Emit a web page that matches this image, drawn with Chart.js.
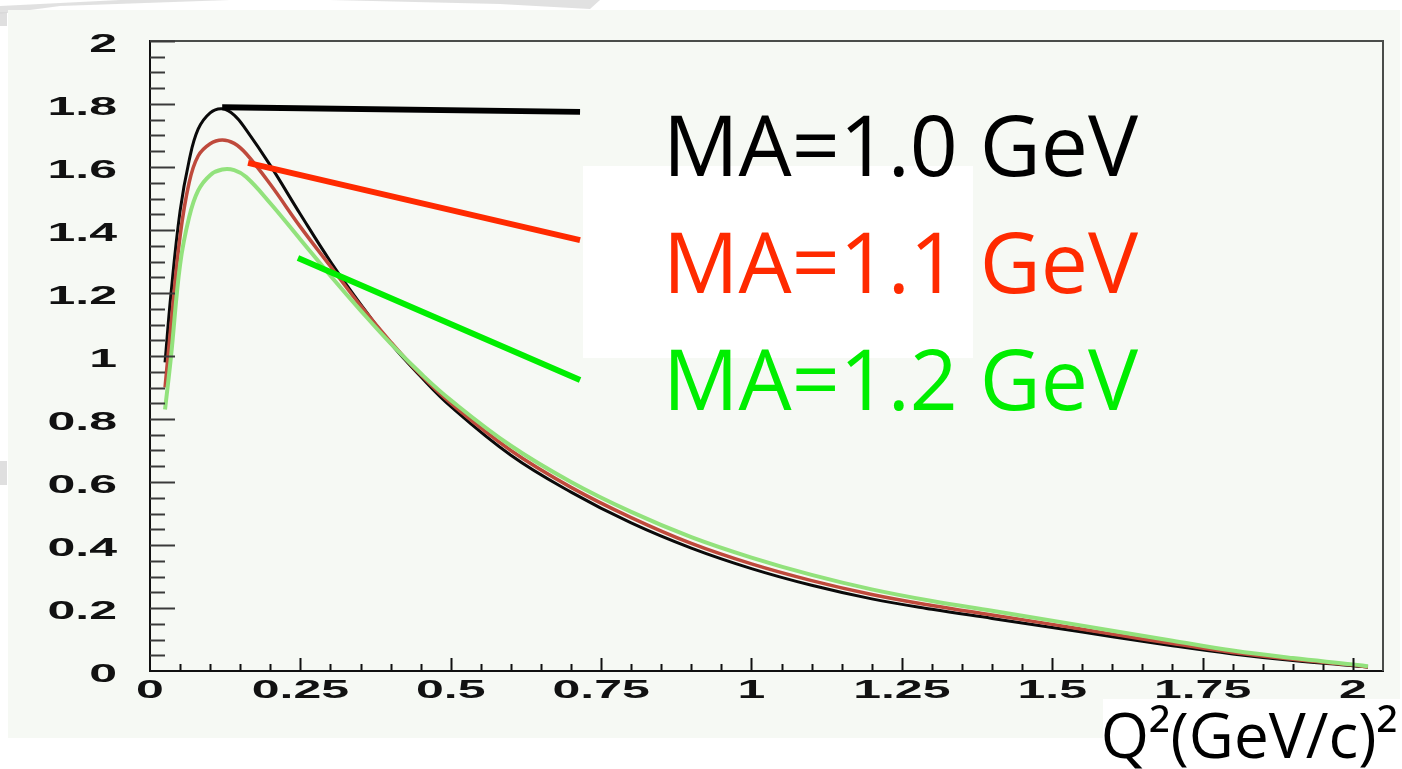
<!DOCTYPE html>
<html>
<head>
<meta charset="utf-8">
<title>Q2 distribution for different axial masses</title>
<script src="https://cdn.jsdelivr.net/npm/chart.js@4.4.1/dist/chart.umd.min.js"></script>
<style>
  html, body { margin: 0; padding: 0; background: #ffffff; }
  canvas { display: block; }
</style>
</head>
<body>
<canvas id="chart" width="1402" height="769"></canvas>
<script>
// Q^2 values, (GeV/c)^2
const q2 = [0.025, 0.035, 0.05, 0.065, 0.08, 0.1, 0.12, 0.14, 0.16, 0.2, 0.25, 0.3, 0.35, 0.4, 0.45, 0.5,
            0.6, 0.7, 0.8, 0.9, 1.0, 1.1, 1.2, 1.3, 1.4, 1.5, 1.6, 1.7, 1.8, 1.9, 2.0, 2.025];

// distribution for MA = 1.0 GeV
const ma10 = [0.98, 1.20, 1.46, 1.62, 1.72, 1.772, 1.785, 1.765, 1.718, 1.605, 1.45, 1.30, 1.165, 1.04, 0.935, 0.84,
              0.685, 0.568, 0.47, 0.39, 0.325, 0.272, 0.229, 0.196, 0.167, 0.138, 0.109, 0.08, 0.054, 0.033, 0.017, 0.012];
// distribution for MA = 1.1 GeV
const ma11 = [0.90, 1.10, 1.38, 1.55, 1.635, 1.674, 1.686, 1.675, 1.642, 1.545, 1.41, 1.285, 1.16, 1.045, 0.94, 0.85,
              0.70, 0.583, 0.487, 0.405, 0.34, 0.287, 0.243, 0.208, 0.178, 0.148, 0.117, 0.087, 0.059, 0.037, 0.019, 0.013];
// distribution for MA = 1.2 GeV
const ma12 = [0.83, 1.00, 1.29, 1.44, 1.525, 1.574, 1.592, 1.59, 1.568, 1.485, 1.37, 1.255, 1.145, 1.04, 0.945, 0.86,
              0.715, 0.60, 0.505, 0.425, 0.36, 0.305, 0.259, 0.222, 0.191, 0.16, 0.128, 0.096, 0.065, 0.041, 0.021, 0.015];

const seriesLabels = ['MA=1.0 GeV', 'MA=1.1 GeV', 'MA=1.2 GeV'];

// pointer segments from each curve to its label: [x0, y0, x1, y1] in data units
const pointerBlack = [0.12, 1.79, 0.715, 1.775];
const pointerRed   = [0.163, 1.613, 0.715, 1.368];
const pointerGreen = [0.246, 1.311, 0.715, 0.924];

// axis ticks
const xTickValues = [0, 0.25, 0.5, 0.75, 1, 1.25, 1.5, 1.75, 2];
const yTickValues = [0, 0.2, 0.4, 0.6, 0.8, 1, 1.2, 1.4, 1.6, 1.8, 2];
const xTickLabels = ['0', '0.25', '0.5', '0.75', '1', '1.25', '1.5', '1.75', '2'];
const yTickLabels = ['0', '0.2', '0.4', '0.6', '0.8', '1', '1.2', '1.4', '1.6', '1.8', '2'];
const axisTitle = 'Q\u00B2(GeV/c)\u00B2';

const toPoints = (xs, ys) => xs.map((x, i) => ({ x: x, y: ys[i] }));
const segment = s => [{ x: s[0], y: s[1] }, { x: s[2], y: s[3] }];

const curveStyle = { pointRadius: 0, tension: 0.4, fill: false, borderJoinStyle: 'round' };
const pointerStyle = { pointRadius: 0, borderWidth: 6, tension: 0, fill: false, borderCapStyle: 'butt' };

// page background, slide panel and white boxes behind texts
const backdrop = {
  id: 'backdrop',
  beforeDraw(chart) {
    const ctx = chart.ctx;
    ctx.save();
    ctx.fillStyle = '#ffffff';
    ctx.fillRect(0, 0, chart.width, chart.height);
    // faint grey streaks along the top edge
    ctx.fillStyle = 'rgba(200,200,200,0.55)';
    ctx.beginPath();
    ctx.moveTo(0, 14); ctx.lineTo(60, 6); ctx.lineTo(230, 0); ctx.lineTo(120, 0); ctx.lineTo(0, 6);
    ctx.closePath(); ctx.fill();
    ctx.beginPath();
    ctx.moveTo(330, 0); ctx.lineTo(600, 0); ctx.lineTo(590, 9); ctx.lineTo(500, 4);
    ctx.closePath(); ctx.fill();
    ctx.fillStyle = '#f6f9f4';
    ctx.fillRect(8, 10, 1392, 728);
    ctx.fillStyle = 'rgba(215,215,215,0.8)';
    ctx.fillRect(0, 12, 7, 14);
    ctx.fillRect(0, 461, 7, 24);
    ctx.restore();
  },
  beforeDatasetsDraw(chart) {
    const ctx = chart.ctx;
    ctx.save();
    ctx.fillStyle = '#ffffff';
    ctx.fillRect(583, 166, 390, 192);
    ctx.fillRect(1103, 699, 299, 70);
    ctx.restore();
  }
};

// draws text stretched horizontally by sx around an anchor
function wideText(ctx, text, x, y, sx, align) {
  ctx.save();
  ctx.translate(x, y);
  ctx.scale(sx, 1);
  ctx.textAlign = align;
  ctx.fillText(text, 0, 0);
  ctx.restore();
}

// frame, inward tick marks, tick labels, curve labels and axis title
const decorations = {
  id: 'decorations',
  afterDraw(chart) {
    const ctx = chart.ctx;
    const a = chart.chartArea;
    const xs = chart.scales.x, ys = chart.scales.y;
    ctx.save();
    // top and right frame
    ctx.strokeStyle = '#4a4d4a';
    ctx.lineWidth = 2;
    ctx.beginPath();
    ctx.moveTo(a.left, a.top); ctx.lineTo(a.right, a.top); ctx.lineTo(a.right, a.bottom);
    ctx.stroke();
    // left axis ticks
    ctx.strokeStyle = '#3a3a3a';
    ctx.lineWidth = 2;
    for (let k = 1; k <= 40; k++) {
      const py = Math.round(ys.getPixelForValue(k * 0.05)) + 0.5;
      const len = (k % 4 === 0) ? 25 : 15;
      ctx.beginPath(); ctx.moveTo(a.left, py); ctx.lineTo(a.left + len, py); ctx.stroke();
    }
    // bottom axis ticks
    ctx.strokeStyle = '#111111';
    for (let k = 1; k <= 40; k++) {
      const px = Math.round(xs.getPixelForValue(k * 0.05)) + 0.5;
      const len = (k % 5 === 0) ? 13 : 7;
      ctx.beginPath(); ctx.moveTo(px, a.bottom); ctx.lineTo(px, a.bottom - len); ctx.stroke();
    }
    // tick labels: bold, drawn twice as wide as tall
    ctx.fillStyle = '#111111';
    ctx.font = 'bold 25px "Liberation Sans", Arial, sans-serif';
    ctx.textBaseline = 'alphabetic';
    yTickValues.forEach((v, i) => {
      wideText(ctx, yTickLabels[i], a.left - 33, ys.getPixelForValue(v) + 11, 2, 'right');
    });
    xTickValues.forEach((v, i) => {
      wideText(ctx, xTickLabels[i], xs.getPixelForValue(v), a.bottom + 27, 2, 'center');
    });
    // curve labels
    ctx.font = '84px "Open Sans"';
    ctx.textAlign = 'left';
    const labelColors = ['#000000', '#ff2a00', '#00ee00'];
    const baselines = [176, 293, 410];
    seriesLabels.forEach((t, i) => {
      ctx.fillStyle = labelColors[i];
      ctx.fillText(t, 663, baselines[i]);
    });
    // axis title
    ctx.fillStyle = '#000000';
    ctx.font = '62px "Open Sans"';
    ctx.textAlign = 'right';
    ctx.fillText(axisTitle, 1398, 758);
    ctx.restore();
  }
};

new Chart(document.getElementById('chart'), {
  type: 'line',
  data: {
    datasets: [
      Object.assign({ label: 'pointer green', data: segment(pointerGreen), borderColor: '#00ee00', order: 0 }, pointerStyle),
      Object.assign({ label: 'pointer red', data: segment(pointerRed), borderColor: '#ff2a00', order: 1 }, pointerStyle),
      Object.assign({ label: 'pointer black', data: segment(pointerBlack), borderColor: '#000000', order: 2 }, pointerStyle),
      Object.assign({ label: seriesLabels[2], data: toPoints(q2, ma12), borderColor: '#92e27c', borderWidth: 4, order: 3 }, curveStyle),
      Object.assign({ label: seriesLabels[1], data: toPoints(q2, ma11), borderColor: '#bf4a3c', borderWidth: 3.5, order: 4 }, curveStyle),
      Object.assign({ label: seriesLabels[0], data: toPoints(q2, ma10), borderColor: '#0a0a0a', borderWidth: 3, order: 5 }, curveStyle)
    ]
  },
  options: {
    responsive: false,
    animation: false,
    layout: { padding: { top: 41, right: 19, left: 0, bottom: 0 } },
    plugins: { legend: { display: false }, tooltip: { enabled: false } },
    scales: {
      x: {
        type: 'linear',
        min: 0,
        max: 2.05,
        grid: { display: false },
        border: { display: true, color: '#111111', width: 2 },
        afterBuildTicks: s => { s.ticks = xTickValues.map(v => ({ value: v })); },
        afterFit: s => { s.height = 98; },
        ticks: { display: false }
      },
      y: {
        type: 'linear',
        min: 0,
        max: 2,
        grid: { display: false },
        border: { display: true, color: '#111111', width: 2 },
        afterBuildTicks: s => { s.ticks = yTickValues.map(v => ({ value: v })); },
        afterFit: s => { s.width = 150; },
        ticks: { display: false }
      }
    }
  },
  plugins: [backdrop, decorations]
});
</script>
</body>
</html>
